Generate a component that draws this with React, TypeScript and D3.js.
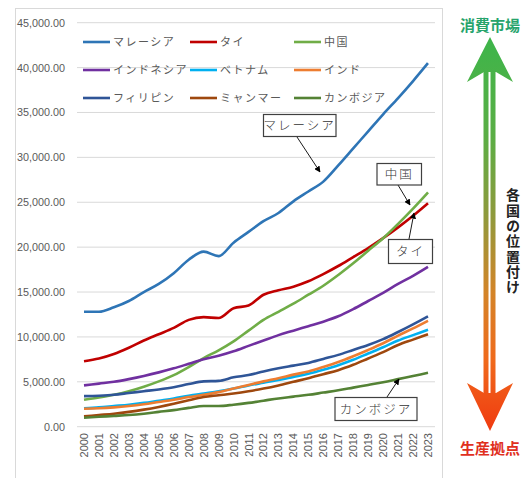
import React from "react";
import * as d3 from "d3";

const years = d3.range(2000, 2024);
const yTicks = [0, 5000, 10000, 15000, 20000, 25000, 30000, 35000, 40000, 45000];

const seriesNames = ["マレーシア", "タイ", "中国", "インドネシア", "ベトナム", "インド", "フィリピン", "ミャンマー", "カンボジア"];
const seriesColors = ["#2E75B6", "#C00000", "#70AD47", "#7030A0", "#00B0F0", "#ED7D31", "#2F5597", "#9E480E", "#548235"];

const malaysia = [12800, 12800, 13300, 14000, 15000, 15900, 17100, 18600, 19500, 19000, 20500, 21700, 22900, 23800, 25100, 26200, 27300, 29100, 31000, 32900, 34800, 36600, 38500, 40500];
const thailand = [7300, 7600, 8100, 8800, 9600, 10300, 11000, 11900, 12200, 12100, 13200, 13500, 14700, 15200, 15600, 16200, 17000, 17900, 18900, 19900, 21000, 22200, 23500, 24900];
const china = [3000, 3250, 3550, 3950, 4450, 5050, 5750, 6650, 7650, 8500, 9500, 10700, 11900, 12800, 13700, 14700, 15700, 16900, 18200, 19600, 21000, 22600, 24300, 26100];
const indonesia = [4600, 4800, 5000, 5300, 5650, 6050, 6500, 7000, 7500, 7900, 8400, 9000, 9600, 10200, 10700, 11200, 11700, 12300, 13100, 14000, 14900, 15900, 16800, 17800];
const vietnam = [2050, 2150, 2300, 2450, 2650, 2900, 3150, 3450, 3700, 3950, 4250, 4600, 4900, 5200, 5550, 5900, 6350, 6850, 7450, 8150, 8850, 9600, 10200, 10800];
const india = [2000, 2050, 2150, 2300, 2500, 2750, 3000, 3300, 3550, 3850, 4250, 4650, 5050, 5400, 5800, 6150, 6650, 7200, 7850, 8550, 9300, 10150, 10950, 11800];
const philippines = [3400, 3450, 3550, 3750, 3950, 4150, 4400, 4750, 5050, 5100, 5500, 5750, 6150, 6500, 6800, 7100, 7550, 8000, 8550, 9100, 9750, 10550, 11400, 12300];
const myanmar = [1150, 1300, 1450, 1650, 1900, 2200, 2550, 2950, 3300, 3500, 3700, 3950, 4250, 4600, 5000, 5400, 5850, 6300, 6900, 7600, 8300, 9100, 9700, 10300];
const cambodia = [1000, 1100, 1200, 1300, 1450, 1650, 1850, 2100, 2300, 2300, 2450, 2650, 2900, 3150, 3350, 3550, 3800, 4050, 4350, 4650, 4950, 5300, 5650, 6000];

const seriesValues = [malaysia, thailand, china, indonesia, vietnam, india, philippines, myanmar, cambodia];

const callouts = [
  { label: "マレーシア", box: [263.5, 114.5, 72.5, 22], from: [297, 137], to: [320, 172] },
  { label: "中国", box: [377, 163.5, 44.5, 21.5], from: [398, 185], to: [410, 205] },
  { label: "タイ", box: [388.5, 239.5, 44, 24], from: [409, 239], to: [414, 213] },
  { label: "カンボジア", box: [335, 397.5, 82, 23], from: [387, 397], to: [399, 379] },
];

const verticalLabel = "各国の位置付け";

export default function App() {
  const x = d3.scaleLinear().domain([2000, 2023]).range([84, 428]);
  const y = d3.scaleLinear().domain([0, 45000]).range([426.7, 22.7]);
  const line = d3
    .line<number>()
    .x((_, i) => x(years[i]))
    .y((d) => y(d))
    .curve(d3.curveMonotoneX);
  const fmt = d3.format(",.2f");
  const font = "'Liberation Sans', Arial, sans-serif";
  const jp = "'Noto Sans CJK JP', sans-serif";

  const cx = 490;
  const headTopTip = 37;
  const headTopBase = 82;
  const headBotTip = 431;
  const headBotBase = 383;
  const upHead = `M${cx},${headTopTip} L${cx + 23},${headTopBase} L${cx + 6},${headTopBase - 10} L${cx - 6},${headTopBase - 10} L${cx - 23},${headTopBase} Z`;
  const downHead = `M${cx},${headBotTip} L${cx + 23},${headBotBase} L${cx + 6},${headBotBase + 10} L${cx - 6},${headBotBase + 10} L${cx - 23},${headBotBase} Z`;

  return (
    <svg
      width={526}
      height={478}
      style={{ position: "absolute", left: 0, top: 0, background: "#fff" }}
    >
      <defs>
        <linearGradient id="arrowGrad" gradientUnits="userSpaceOnUse" x1="0" y1="37" x2="0" y2="431">
          <stop offset="0" stopColor="#3DB54A" />
          <stop offset="0.25" stopColor="#5AAE45" />
          <stop offset="0.45" stopColor="#8E9A3C" />
          <stop offset="0.65" stopColor="#D48428" />
          <stop offset="0.82" stopColor="#F06A1C" />
          <stop offset="1" stopColor="#F03A10" />
        </linearGradient>
        <marker id="arr" viewBox="0 0 10 10" refX="9" refY="5" markerWidth="7" markerHeight="7" orient="auto">
          <path d="M0,0 L10,5 L0,10 Z" fill="#000" />
        </marker>
      </defs>
      <rect x={15.5} y={8.5} width={427} height={480} fill="#fff" stroke="#d9d9d9" />

      {yTicks.map((t) => (
        <g key={t}>
          <line x1={77} x2={435} y1={y(t)} y2={y(t)} stroke="#d9d9d9" strokeWidth={1} />
          <text x={65} y={y(t) + 4} textAnchor="end" fontFamily={font} fontSize={10.8} fill="#595959">
            {fmt(t)}
          </text>
        </g>
      ))}

      {years.map((yr) => (
        <text
          key={yr}
          transform={`translate(${x(yr) + 4},${433}) rotate(-90)`}
          textAnchor="end"
          fontFamily={font}
          fontSize={11}
          fill="#595959"
        >
          {yr}
        </text>
      ))}

      {seriesValues.map((vals, i) => (
        <path key={seriesNames[i]} d={line(vals) || ""} fill="none" stroke={seriesColors[i]} strokeWidth={2.6} strokeLinejoin="round" />
      ))}

      {seriesNames.map((name, i) => {
        const col = i % 3;
        const row = Math.floor(i / 3);
        const lx = [83, 190, 294][col];
        const ly = 42 + row * 28;
        return (
          <g key={name}>
            <line x1={lx} x2={lx + 27} y1={ly} y2={ly} stroke={seriesColors[i]} strokeWidth={2.6} />
            <text x={lx + 30} y={ly + 4} fontFamily={jp} fontSize={11} fill="#595959" letterSpacing={1.5}>
              {name}
            </text>
          </g>
        );
      })}

      {callouts.map((c) => (
        <g key={c.label}>
          <line x1={c.from[0]} y1={c.from[1]} x2={c.to[0]} y2={c.to[1]} stroke="#000" strokeWidth={0.9} markerEnd="url(#arr)" />
          <rect x={c.box[0]} y={c.box[1]} width={c.box[2]} height={c.box[3]} fill="#fff" stroke="#404040" strokeWidth={1.2} />
          <text
            x={c.box[0] + c.box[2] / 2}
            y={c.box[1] + c.box[3] / 2 + 4.5}
            textAnchor="middle"
            fontFamily={jp}
            fontWeight={300}
            fontSize={12.5}
            fill="#333"
            letterSpacing={2}
          >
            {c.label}
          </text>
        </g>
      ))}

      <text x={490} y={31} textAnchor="middle" fontFamily={jp} fontWeight={700} fontSize={15} fill="#27A46C">
        消費市場
      </text>
      <text x={490} y={454} textAnchor="middle" fontFamily={jp} fontWeight={700} fontSize={15} fill="#E0301E">
        生産拠点
      </text>

      <rect x={483.5} y={70} width={5} height={325} fill="url(#arrowGrad)" />
      <rect x={490.5} y={70} width={5} height={325} fill="url(#arrowGrad)" />
      <path d={upHead} fill="url(#arrowGrad)" />
      <path d={downHead} fill="url(#arrowGrad)" />

      <text
        x={513}
        y={188}
        fontFamily={jp}
        fontWeight={700}
        fontSize={14}
        fill="#222"
        letterSpacing={1.3}
        style={{ writingMode: "vertical-rl" }}
      >
        {verticalLabel}
      </text>
    </svg>
  );
}
